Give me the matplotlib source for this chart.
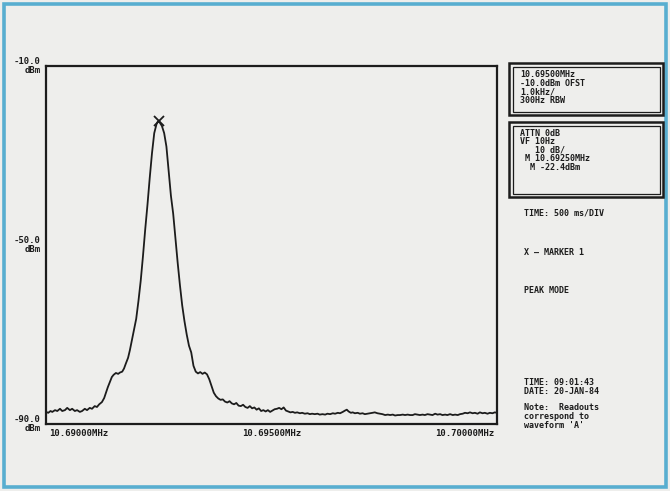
import matplotlib
matplotlib.use("Agg")
import matplotlib.pyplot as plt
from matplotlib.patches import Rectangle

# ---- data (frequency in kHz, level in dBm) ----
freq_khz = [
    10690.00, 10690.05, 10690.10, 10690.14, 10690.20, 10690.25, 10690.31, 10690.36,
    10690.42, 10690.47, 10690.53, 10690.58, 10690.64, 10690.69, 10690.75, 10690.80,
    10690.86, 10690.91, 10690.97,
    10691.02, 10691.08, 10691.13, 10691.18, 10691.24, 10691.29, 10691.33, 10691.37,
    10691.42, 10691.46, 10691.50, 10691.55, 10691.60, 10691.64, 10691.69, 10691.73,
    10691.77, 10691.82, 10691.86, 10691.90, 10691.94,
    10692.00, 10692.05, 10692.10, 10692.15, 10692.20, 10692.25, 10692.30, 10692.35,
    10692.40, 10692.45, 10692.48, 10692.52, 10692.57, 10692.62, 10692.67, 10692.72,
    10692.77, 10692.82, 10692.87, 10692.92, 10692.97,
    10693.02, 10693.07, 10693.12, 10693.17, 10693.22, 10693.27, 10693.32, 10693.37,
    10693.42, 10693.47, 10693.52, 10693.57, 10693.62, 10693.67, 10693.72, 10693.77,
    10693.82, 10693.87, 10693.92, 10693.97,
    10694.02, 10694.07, 10694.12, 10694.17, 10694.22, 10694.27, 10694.32, 10694.37,
    10694.42, 10694.47, 10694.52, 10694.57, 10694.62, 10694.67, 10694.72, 10694.77,
    10694.82, 10694.87, 10694.92, 10694.97,
    10695.02, 10695.07, 10695.12, 10695.17, 10695.22, 10695.27, 10695.32, 10695.37,
    10695.42, 10695.47, 10695.52, 10695.57, 10695.63, 10695.68, 10695.74, 10695.80,
    10695.85, 10695.90, 10695.96,
    10696.02, 10696.07, 10696.13, 10696.19, 10696.24, 10696.30, 10696.36, 10696.41,
    10696.47, 10696.52, 10696.58, 10696.63, 10696.67, 10696.71, 10696.76, 10696.80,
    10696.85, 10696.91, 10696.96,
    10697.02, 10697.07, 10697.13, 10697.18, 10697.24, 10697.29, 10697.35, 10697.41,
    10697.46, 10697.52, 10697.58, 10697.63, 10697.69, 10697.74, 10697.80, 10697.85,
    10697.91, 10697.96,
    10698.02, 10698.07, 10698.13, 10698.18, 10698.24, 10698.29, 10698.35, 10698.40,
    10698.46, 10698.51, 10698.57, 10698.63, 10698.68, 10698.74, 10698.79, 10698.85,
    10698.90, 10698.96,
    10699.02, 10699.07, 10699.13, 10699.18, 10699.24, 10699.29, 10699.35, 10699.40,
    10699.46, 10699.51, 10699.57, 10699.62, 10699.68, 10699.73, 10699.79, 10699.84,
    10699.90, 10699.95, 10700.00,
]
level_dbm = [
    -87.3, -87.5, -87.1, -87.3, -86.9, -87.1, -86.6, -87.1,
    -86.9, -86.4, -86.9, -86.6, -87.1, -86.9, -87.3, -87.1,
    -86.6, -86.9, -86.4,
    -86.6, -86.0, -86.2, -85.6, -85.1, -84.2, -83.0, -81.8,
    -80.5, -79.5, -79.0, -78.6, -78.8, -78.5, -78.3, -77.6,
    -76.5, -75.2, -73.5, -71.5, -69.5,
    -66.5, -62.5, -58.0, -52.5, -46.5, -41.0, -35.0, -29.5,
    -25.0, -23.0, -22.4, -22.6, -23.4, -25.0, -28.0, -33.5,
    -39.0, -43.0, -48.5, -54.0, -59.0,
    -63.5, -67.0, -70.0, -72.5, -74.0, -77.0, -78.3, -78.7,
    -78.4, -78.8, -78.5, -78.9, -80.0, -81.5, -83.0, -83.8,
    -84.3, -84.6, -84.5, -85.0,
    -85.2, -84.9, -85.4, -85.6, -85.3, -85.9, -86.0, -85.7,
    -86.2, -86.4, -86.0, -86.5, -86.3, -86.8, -86.5, -87.1,
    -86.9, -87.2, -86.9, -87.3,
    -87.0, -86.7, -86.6, -86.4, -86.7, -86.3, -87.0, -87.2,
    -87.4, -87.3, -87.5, -87.4, -87.6, -87.5, -87.7, -87.6,
    -87.8, -87.7, -87.8,
    -87.7, -87.9, -87.8, -87.9, -87.7, -87.8, -87.6, -87.7,
    -87.5, -87.6, -87.3, -87.0, -86.8, -87.2, -87.5, -87.4,
    -87.6, -87.5, -87.7,
    -87.6, -87.8, -87.7, -87.6, -87.5, -87.4, -87.6, -87.7,
    -87.8, -88.0, -87.9, -88.0, -87.9, -88.1, -88.0, -88.0,
    -87.9, -88.0,
    -87.9, -88.0, -88.0, -87.8, -87.9, -88.0, -87.9, -88.0,
    -87.8, -87.9, -88.0, -87.7, -87.9, -87.8, -88.0, -87.9,
    -88.0, -87.8,
    -88.0, -87.9, -88.0, -87.8, -87.7, -87.5, -87.6, -87.4,
    -87.6, -87.5, -87.7, -87.4, -87.6, -87.5, -87.7, -87.5,
    -87.6, -87.4, -87.5,
]
marker_freq_khz = 10692.50
marker_level_dbm = -22.4

y_ticks = [-10.0, -50.0, -90.0]
y_tick_labels = ["-10.0\ndBm", "-50.0\ndBm", "-90.0\ndBm"]
x_ticks = [10690.0, 10695.0, 10700.0]
x_tick_labels = ["10.69000MHz", "10.69500MHz", "10.70000MHz"]

box1_lines = ["10.69500MHz", "-10.0dBm OFST", "1.0kHz/", "300Hz RBW"]
box2_lines = ["ATTN 0dB", "VF 10Hz", "   10 dB/", " M 10.69250MHz", "  M -22.4dBm"]
side_notes = [
    (["TIME: 500 ms/DIV"], 213),
    (["X \u2014 MARKER 1"], 252),
    (["PEAK MODE"], 290),
    (["TIME: 09:01:43", "DATE: 20-JAN-84"], 382),
    (["Note:  Readouts", "correspond to", "waveform 'A'"], 407),
]

# ---- figure ----
W, H = 670, 491
BG = "#eeeeec"
INK = "#1c1c1c"
fig = plt.figure(figsize=(W / 100, H / 100), dpi=100, facecolor=BG)

def fx(px):
    return px / W

def fy(py):
    return 1 - py / H

FONT = dict(family="DejaVu Sans Mono", fontweight="bold", color=INK)
FS = 6.0
LS = 0.95

# outer blue frame
fig.patches.append(Rectangle((fx(4), fy(487)), fx(662), 483 / H, transform=fig.transFigure,
                             fill=False, edgecolor="#58aed0", lw=2.6))

ax = fig.add_axes([fx(46), fy(424), fx(497) - fx(46), (424 - 66) / H])
ax.set_facecolor(BG)
ax.plot(freq_khz, level_dbm, color=INK, lw=1.3)
ax.plot([marker_freq_khz], [marker_level_dbm], marker="x", ms=7, mew=1.3, color=INK, ls="none")
ax.set_xlim(x_ticks[0], x_ticks[-1])
ax.set_ylim(y_ticks[-1], y_ticks[0])
for s in ax.spines.values():
    s.set_linewidth(1.6)
    s.set_color(INK)
ax.set_xticks([])
ax.set_yticks([])

# y labels (left of axes)
for v, lab in zip(y_ticks, y_tick_labels):
    ax.text(-0.012, v, lab, transform=ax.get_yaxis_transform(), ha="right", va="center",
            fontsize=6.5, linespacing=0.95, **FONT)

# x labels
aligns = ["left", "center", "right"]
offs = [0.008, 0.0, -0.005]
for v, lab, a, o in zip(x_ticks, x_tick_labels, aligns, offs):
    xa = (v - x_ticks[0]) / (x_ticks[-1] - x_ticks[0]) + o
    ax.text(xa, -0.015, lab, transform=ax.transAxes, ha=a, va="top", fontsize=6.5, **FONT)

# right-hand readout boxes
def double_box(x0, y0, x1, y1):
    fig.patches.append(Rectangle((fx(x0), fy(y1)), fx(x1) - fx(x0), (y1 - y0) / H,
                                 transform=fig.transFigure, fill=False, edgecolor=INK, lw=1.8))
    fig.patches.append(Rectangle((fx(x0 + 3.5), fy(y1 - 3.5)), fx(x1 - 3.5) - fx(x0 + 3.5),
                                 (y1 - y0 - 7) / H, transform=fig.transFigure, fill=False,
                                 edgecolor=INK, lw=0.9))

double_box(509, 63, 663, 115)
double_box(509, 122, 663, 197)

fig.text(fx(520), fy(70), "\n".join(box1_lines), ha="left", va="top",
         fontsize=FS, linespacing=LS, **FONT)
fig.text(fx(520), fy(128.5), "\n".join(box2_lines), ha="left", va="top",
         fontsize=FS, linespacing=LS, **FONT)
for lines, py in side_notes:
    fig.text(fx(524), fy(py - 4), "\n".join(lines), ha="left", va="top",
             fontsize=FS, linespacing=LS + 0.05, **FONT)

fig.savefig("out.png", dpi=100, facecolor=BG)
